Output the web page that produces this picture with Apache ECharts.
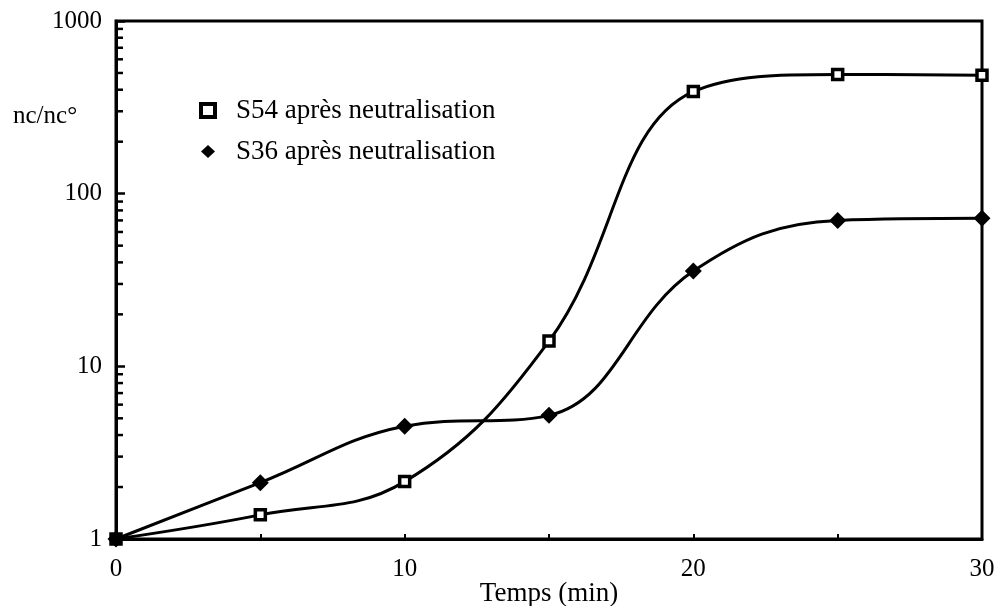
<!DOCTYPE html>
<html>
<head>
<meta charset="utf-8">
<script src="https://cdn.jsdelivr.net/npm/echarts@6/dist/echarts.min.js"></script>
<style>
    html, body { margin: 0; padding: 0; background: #fff; }
    #main { width: 998px; height: 606px; }
</style>
</head>
<body>
<div id="main"></div>
<script>
// data
var timeMin = [0, 5, 10, 15, 20, 25, 30];
var s54 = [1, 1.38, 2.15, 14.0, 390, 490, 485];
var s36 = [1, 2.12, 4.5, 5.2, 35.6, 70, 72];
var seriesNames = ['S54 après neutralisation', 'S36 après neutralisation'];
// minor log ticks on the y axis (2..9 in each decade)
var minorTickValues = [2, 3, 4, 5, 6, 7, 8, 9, 20, 30, 40, 50, 60, 70, 80, 90, 200, 300, 400, 500, 600, 700, 800, 900];

var font = "'Liberation Serif', 'DejaVu Serif', serif";

function pairs(xs, ys) {
    var out = [];
    for (var i = 0; i < xs.length; i++) {
        out.push([xs[i], ys[i]]);
    }
    return out;
}

var myChart = echarts.init(document.getElementById('main'));

var option = {
    animation: false,
    backgroundColor: '#fff',
    grid: {
        left: 116,
        right: 16,
        top: 21,
        bottom: 67,
        outerBoundsMode: 'none',
        containLabel: false,
        show: true,
        borderColor: '#000',
        borderWidth: 3
    },
    graphic: [{
        type: 'text',
        left: 13,
        top: 104,
        style: {
            text: 'nc/nc°',
            font: '25px ' + font,
            fill: '#000'
        }
    }],
    legend: {
        orient: 'vertical',
        left: 194,
        top: 92,
        itemWidth: 14,
        itemHeight: 13,
        itemGap: 14,
        textStyle: {
            fontFamily: font,
            fontSize: 27,
            color: '#000',
            lineHeight: 24,
            padding: [0, 0, 0, 16]
        },
        data: [{
            name: seriesNames[0],
            icon: 'rect',
            itemStyle: { color: '#fff', borderColor: '#000', borderWidth: 4 }
        }, {
            name: seriesNames[1],
            icon: 'diamond',
            itemStyle: { color: '#000' }
        }]
    },
    xAxis: {
        type: 'value',
        min: 0,
        max: 30,
        interval: 10,
        name: 'Temps (min)',
        nameLocation: 'middle',
        nameGap: 41,
        nameMoveOverlap: false,
        nameTextStyle: { fontFamily: font, fontSize: 27, color: '#000' },
        axisLine: { lineStyle: { color: '#000', width: 3 } },
        axisTick: { inside: true, length: 5, lineStyle: { color: '#000', width: 2 } },
        minorTick: { show: true, splitNumber: 2, length: 5, lineStyle: { color: '#000', width: 2 } },
        axisLabel: { fontFamily: font, fontSize: 25, color: '#000', margin: 18 },
        splitLine: { show: false }
    },
    yAxis: {
        type: 'log',
        logBase: 10,
        min: 1,
        max: 1000,
        axisLine: { show: true, lineStyle: { color: '#000', width: 3 } },
        axisTick: { show: true, inside: true, length: 9, lineStyle: { color: '#000', width: 2.5 } },
        axisLabel: {
            fontFamily: font,
            fontSize: 25,
            color: '#000',
            margin: 14,
            formatter: function (v) { return String(v); }
        },
        splitLine: { show: false }
    },
    series: [{
        name: seriesNames[0],
        type: 'line',
        smooth: 0.4,
        data: pairs(timeMin, s54),
        symbol: 'rect',
        symbolSize: 10,
        showAllSymbol: true,
        lineStyle: { color: '#000', width: 3 },
        itemStyle: { color: '#fff', borderColor: '#000', borderWidth: 3.5 },
        z: 3
    }, {
        name: seriesNames[1],
        type: 'line',
        smooth: 0.4,
        data: pairs(timeMin, s36),
        symbol: 'diamond',
        symbolSize: 17,
        showAllSymbol: true,
        lineStyle: { color: '#000', width: 3 },
        itemStyle: { color: '#000' },
        z: 4
    }, {
        // minor ticks of the log axis
        name: 'minorTicks',
        type: 'custom',
        silent: true,
        z: 5,
        data: minorTickValues.map(function (v) { return [0, v]; }),
        renderItem: function (params, api) {
            var p = api.coord([0, api.value(1)]);
            return {
                type: 'line',
                shape: { x1: p[0], y1: p[1], x2: p[0] + 7, y2: p[1] },
                style: { stroke: '#000', lineWidth: 2.5 }
            };
        }
    }]
};

myChart.setOption(option);
</script>
</body>
</html>
